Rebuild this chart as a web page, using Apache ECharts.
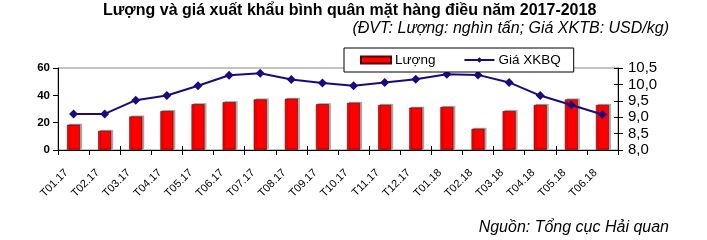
<!DOCTYPE html>
<html><head><meta charset="utf-8">
<script src="https://cdn.jsdelivr.net/npm/echarts@6/dist/echarts.min.js"></script>
<style>html,body{margin:0;padding:0;background:#fff}#c{width:707px;height:240px}</style>
</head><body><div id="c"></div>
<script>
var categories = ['T01.17','T02.17','T03.17','T04.17','T05.17','T06.17','T07.17','T08.17','T09.17','T10.17','T11.17','T12.17','T01.18','T02.18','T03.18','T04.18','T05.18','T06.18'];
var luong = [18.5, 14, 24.5, 28.5, 33.5, 35, 37, 37.5, 33.5, 34.5, 33, 31, 31.5, 15.5, 28.5, 33, 37, 33];
var gia = [9.10, 9.10, 9.52, 9.66, 9.96, 10.28, 10.34, 10.15, 10.04, 9.96, 10.06, 10.16, 10.31, 10.29, 10.06, 9.66, 9.37, 9.08];
var leftTicks = [0, 60, 20];
var rightTicks = [8, 10.5, 0.5];
var FONT = 'Liberation Sans, Arial, sans-serif';
var chart = echarts.init(document.getElementById('c'));
chart.setOption({
  animation: false,
  textStyle: {fontFamily: FONT},
  title: [
    {text: 'Lượng và giá xuất khẩu bình quân mặt hàng điều năm 2017-2018', left: 103, top: 3, padding: 0,
     textStyle: {fontSize: 16, fontWeight: 'bold', color: '#000', fontFamily: FONT}},
    {text: '(ĐVT: Lượng: nghìn tấn; Giá XKTB: USD/kg)', right: 38, top: 21, padding: 0,
     textStyle: {fontSize: 16, fontStyle: 'italic', fontWeight: 'normal', color: '#000', fontFamily: FONT}},
    {text: 'Nguồn: Tổng cục Hải quan', right: 38, top: 220, padding: 0,
     textStyle: {fontSize: 16, fontStyle: 'italic', fontWeight: 'normal', color: '#000', fontFamily: FONT}}
  ],
  legend: {
    left: 344, top: 48, z: 20,
    backgroundColor: '#fff', borderColor: '#000', borderWidth: 1, borderRadius: 0,
    padding: [5, 13, 5, 16], itemGap: 28, itemWidth: 30, itemHeight: 7,
    textStyle: {fontSize: 13.5, color: '#000', fontFamily: FONT, padding: [0, 0, 0, -1]},
    data: [{name: 'Lượng', icon: 'rect'}, {name: 'Giá XKBQ'}]
  },
  grid: {left: 58, right: 89, top: 68, bottom: 90, show: true, borderColor: '#888', borderWidth: 1},
  xAxis: [{
    type: 'category', data: categories, boundaryGap: true,
    axisLine: {lineStyle: {color: '#000', width: 1}},
    axisTick: {show: true, length: 5, lineStyle: {color: '#000'}},
    axisLabel: {rotate: 45, fontSize: 11, color: '#000', margin: 14, padding: [0, 10, 0, 0], interval: 0}
  }, {
    type: 'category', data: categories, boundaryGap: true, position: 'bottom',
    axisLine: {show: false},
    axisTick: {show: true, inside: true, length: 4, lineStyle: {color: '#000'}},
    axisLabel: {show: false}
  }],
  yAxis: [
    {type: 'value', min: leftTicks[0], max: leftTicks[1], interval: leftTicks[2],
     axisLine: {show: true, lineStyle: {color: '#000'}},
     axisTick: {show: true, length: 5, lineStyle: {color: '#000'}},
     splitLine: {show: false},
     axisLabel: {fontSize: 11.5, fontWeight: 'bold', color: '#000', margin: 8}},
    {type: 'value', min: rightTicks[0], max: rightTicks[1], interval: rightTicks[2], position: 'right',
     axisLine: {show: true, lineStyle: {color: '#000'}},
     axisTick: {show: true, length: 5, lineStyle: {color: '#000'}},
     splitLine: {show: false},
     axisLabel: {fontSize: 15, color: '#000', margin: 10, showMinLabel: true, showMaxLabel: true, hideOverlap: false,
       formatter: function (v) { return v.toFixed(1).replace('.', ','); }}},
    {type: 'value', min: rightTicks[0], max: rightTicks[1], interval: rightTicks[2], position: 'right',
     axisLine: {show: false},
     axisTick: {show: true, inside: true, length: 4, lineStyle: {color: '#000'}},
     splitLine: {show: false}, axisLabel: {show: false}}
  ],
  series: [
    {name: 'Lượng', type: 'bar', yAxisIndex: 0, data: luong, barWidth: 13,
     itemStyle: {color: '#FF0000', borderColor: '#5a0000', borderWidth: 0.6,
       shadowColor: 'rgba(0,0,0,0.3)', shadowOffsetX: 2, shadowOffsetY: -1, shadowBlur: 0}},
    {name: 'Giá XKBQ', type: 'line', yAxisIndex: 1, data: gia,
     symbol: 'diamond', symbolSize: 9, z: 5,
     lineStyle: {color: '#1a0a80', width: 2},
     itemStyle: {color: '#1a0a80'}}
  ]
});
</script></body></html>
